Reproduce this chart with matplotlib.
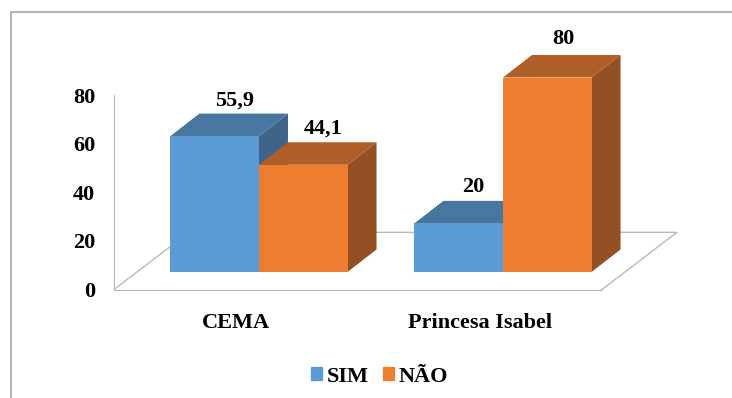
import matplotlib
matplotlib.use('Agg')
import matplotlib.pyplot as plt
from matplotlib.lines import Line2D
from matplotlib.patches import Patch, Polygon

places = ['CEMA', 'Princesa Isabel']
sim = [55.9, 20]
nao = [44.1, 80]
y_ticks = [0, 20, 40, 60, 80]

BLUE = ('#5b9bd5', '#47769f', '#3e6489')
ORANGE = ('#ed7d31', '#b05e28', '#935023')
GREY = '#b8b8b8'

# fake 3d: floor depth, bar depth and how far the bars sit from the front edge
FLOOR_DX, FLOOR_DY = 0.307, 23.5
BAR_DX, BAR_DY = 0.119, 9.26
SHIFT_X, SHIFT_Y = 0.094, 7.2
BAR_W = 0.363

plt.rcParams['font.family'] = ['Liberation Serif', 'DejaVu Serif']
plt.rcParams['font.weight'] = 'bold'
plt.rcParams['font.size'] = 16

W, H = 732, 398
fig = plt.figure(figsize=(W / 100, H / 100), dpi=100)
ax = fig.add_axes([114 / W, 108.5 / H, 585.6 / W, 243.1 / H])
ax.set_xlim(0, 2.4)
ax.set_ylim(0, 100)
ax.patch.set_visible(False)


def box(x, value, colors, order):
    left = x + SHIFT_X
    right = left + BAR_W
    base = SHIFT_Y
    top = base + value
    ax.add_patch(Polygon([(right, base), (right + BAR_DX, base + BAR_DY),
                          (right + BAR_DX, top + BAR_DY), (right, top)],
                         fc=colors[2], ec='none', zorder=order))
    ax.add_patch(Polygon([(left, top), (left + BAR_DX, top + BAR_DY),
                          (right + BAR_DX, top + BAR_DY), (right, top)],
                         fc=colors[1], ec='none', zorder=order))
    ax.bar(left, value, BAR_W, bottom=base, align='edge', color=colors[0], zorder=order + 0.5)


def value_label(x, value, off):
    # label sits over the back edge of the box
    text = f'{value:g}'.replace('.', ',')
    ax.annotate(text, (x + SHIFT_X + BAR_W / 2, SHIFT_Y + value + BAR_DY),
                xytext=off, textcoords='offset pixels',
                ha='center', va='center', annotation_clip=False, zorder=10)


# floor
ax.plot([0, FLOOR_DX, 2 + FLOOR_DX, 2], [0, FLOOR_DY, FLOOR_DY, 0],
        color=GREY, lw=1, zorder=1, clip_on=False)

sim_off = [(20, 12.5), (15, 13.5)]
nao_off = [(20, 13.5), (16, 16)]
for i in range(len(places)):
    box(i + 0.5 - BAR_W, sim[i], BLUE, 2 + i * 2)
    box(i + 0.5, nao[i], ORANGE, 3 + i * 2)
    value_label(i + 0.5 - BAR_W, sim[i], sim_off[i])
    value_label(i + 0.5, nao[i], nao_off[i])

ax.set_xticks([i + 0.5 for i in range(len(places))], places)
ax.set_yticks(y_ticks)
ax.tick_params(axis='x', length=0, pad=17)
ax.tick_params(axis='y', length=0, pad=13.5)

for s in ['top', 'right']:
    ax.spines[s].set_visible(False)
ax.spines['left'].set_bounds(0, 80)
ax.spines['bottom'].set_bounds(0, 2)
ax.spines['left'].set_color(GREY)
ax.spines['bottom'].set_color(GREY)

handles = [Patch(color=BLUE[0], label='SIM'), Patch(color=ORANGE[0], label='NÃO')]
fig.legend(handles=handles, loc='center', bbox_to_anchor=(379.5 / W, 1 - 376.5 / H),
           ncol=2, frameon=False, handlelength=0.5, handleheight=0.5,
           handletextpad=0.22, columnspacing=0.63, borderpad=0, borderaxespad=0)

# chart frame, runs off the top right of the canvas
fig.add_artist(Line2D([10.5 / W, 10.5 / W, 1], [0, 1 - 12 / H, 1 - 12 / H],
                      color='#b3b3b3', lw=1.5))

fig.savefig('out.png', dpi=100)
